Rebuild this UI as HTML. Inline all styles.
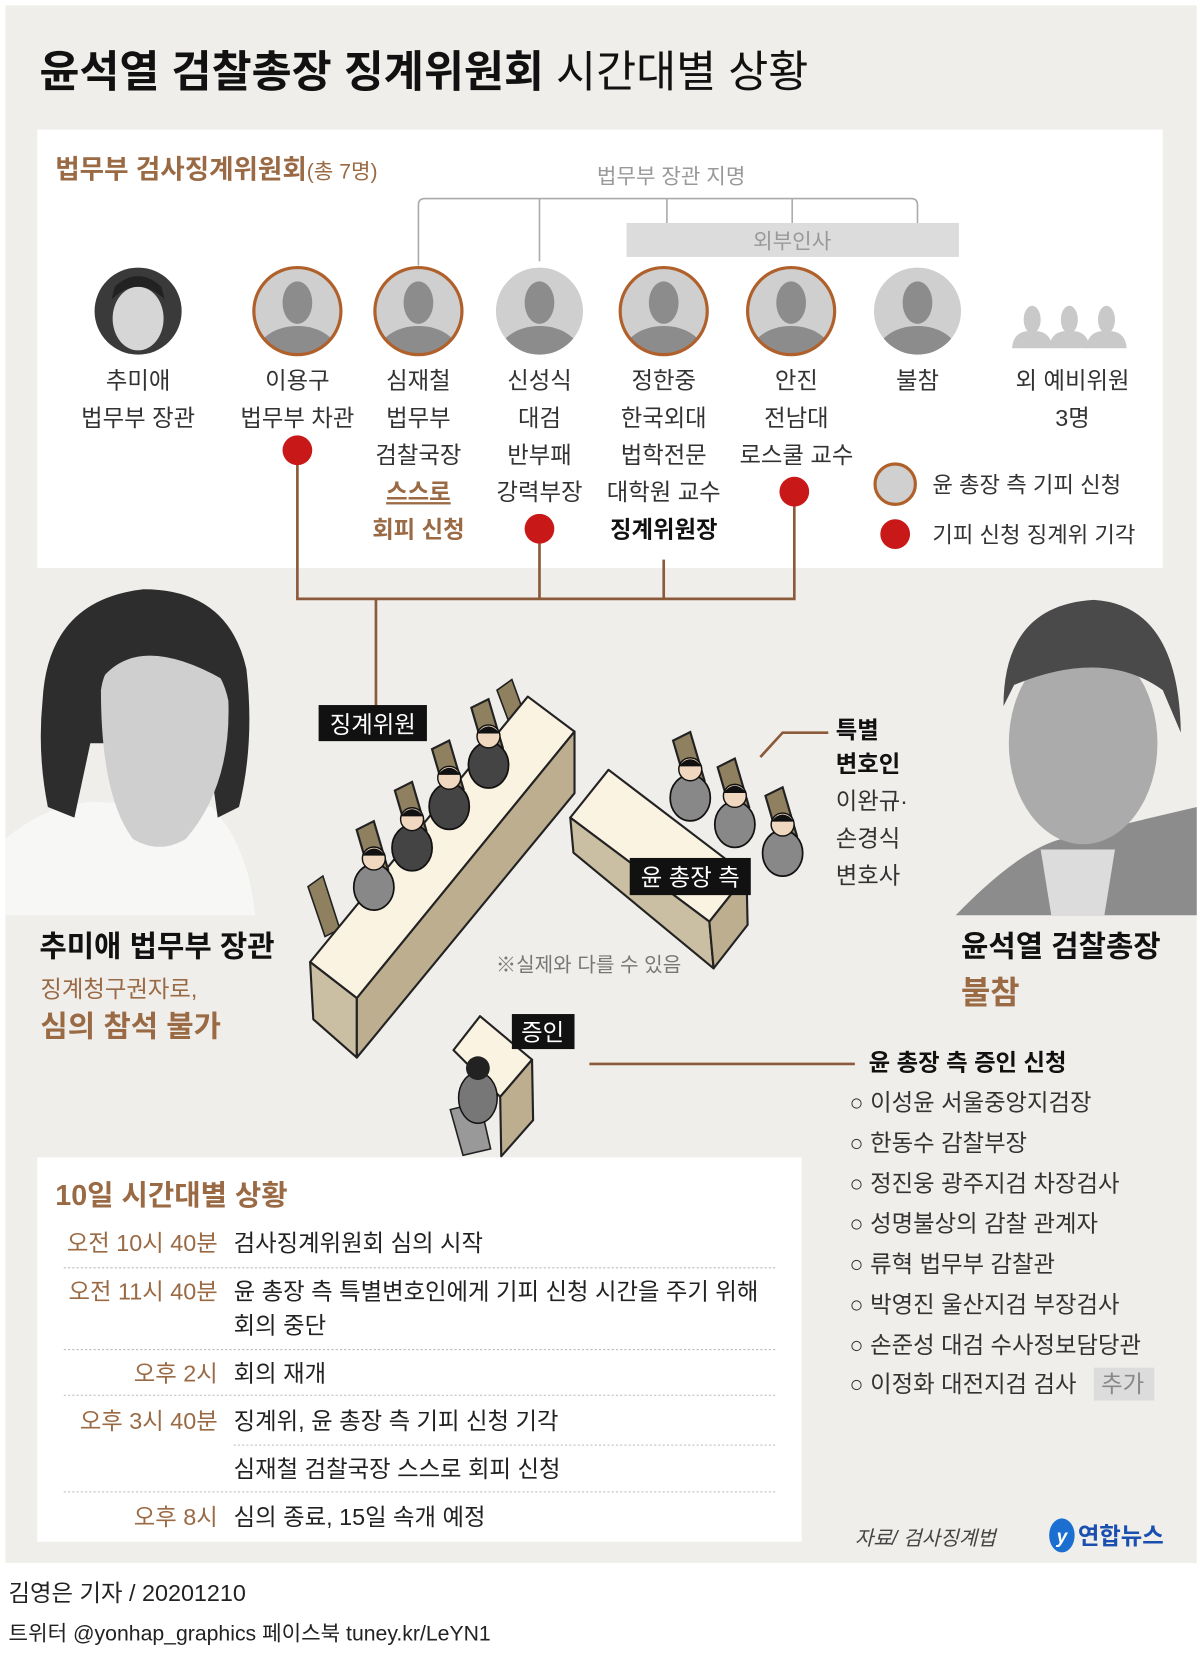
<!DOCTYPE html>
<html><head><meta charset="utf-8"><style>
html,body{margin:0;padding:0;background:#fff;}
svg{display:block;}
text{font-family:"Liberation Sans","Noto Sans CJK KR",sans-serif;}
</style></head><body>
<svg width="1200" height="1666" viewBox="0 0 1130 1569" xmlns="http://www.w3.org/2000/svg">
<defs>
<g id="av"><circle r="41" fill="#cfcfcf"/><clipPath id="cc"><circle r="41"/></clipPath>
<g clip-path="url(#cc)"><ellipse cx="0" cy="-8" rx="14" ry="20" fill="#8c8c8c"/><ellipse cx="0" cy="40" rx="38" ry="26" fill="#8c8c8c"/></g></g>
<g id="per"><ellipse cx="0" cy="-9" rx="8" ry="13" fill="#c9c9c9"/><path d="M-19,18 Q-18,4 -6,2 L6,2 Q18,4 19,18 Z" fill="#c9c9c9"/></g>
<g id="sitD" transform="scale(1.35)"><path d="M-12,-30 L0,-36 L10,-2 L-2,4 Z" fill="#8f8060" stroke="#222" stroke-width="1.5"/><ellipse cx="0" cy="10" rx="14" ry="16" fill="#444" stroke="#111" stroke-width="1.2"/><circle cx="0" cy="-10" r="8" fill="#f0d8c0" stroke="#111"/><path d="M-8,-12 Q0,-22 8,-12 Z" fill="#111"/></g>
<g id="sitL" transform="scale(1.35)"><path d="M-12,-30 L0,-36 L10,-2 L-2,4 Z" fill="#8f8060" stroke="#222" stroke-width="1.5"/><ellipse cx="0" cy="10" rx="14" ry="16" fill="#888" stroke="#111" stroke-width="1.2"/><circle cx="0" cy="-10" r="8" fill="#f0d8c0" stroke="#111"/><path d="M-8,-12 Q0,-22 8,-12 Z" fill="#111"/></g>
</defs>
<rect width="1130" height="1569" fill="#fff"/>
<rect x="5" y="5" width="1122" height="1467" fill="#efeeeb"/>
<text x="37" y="82" font-size="41" font-weight="700" fill="#111">윤석열 검찰총장 징계위원회 <tspan font-weight="400">시간대별 상황</tspan></text>

<rect x="35" y="122" width="1060" height="413" fill="#fff"/>
<text x="52" y="168" font-size="25" font-weight="700" fill="#9a6a45">법무부 검사징계위원회<tspan font-size="20" font-weight="400">(총 7명)</tspan></text>
<text x="632" y="173" font-size="20" fill="#999" text-anchor="middle">법무부 장관 지명</text>
<path d="M394,250 L394,193 Q394,187 400,187 L858,187 Q864,187 864,193 L864,212 M508,187 L508,246 M628,187 L628,212 M746,187 L746,212" stroke="#aaa" stroke-width="1.5" fill="none"/>
<rect x="590" y="210" width="313" height="32" fill="#dcdcdc"/>
<text x="746" y="234" font-size="20" fill="#999" text-anchor="middle">외부인사</text>

<circle cx="130" cy="293" r="41" fill="#3a3a3a"/>
<ellipse cx="130" cy="300" rx="24" ry="30" fill="#d6d6d6"/>
<path d="M105,282 Q130,258 155,282 L152,270 Q130,250 108,270 Z" fill="#222"/>
<use href="#av" x="280" y="293"/><circle cx="280" cy="293" r="41" fill="none" stroke="#b0602a" stroke-width="3"/>
<use href="#av" x="394" y="293"/><circle cx="394" cy="293" r="41" fill="none" stroke="#b0602a" stroke-width="3"/>
<use href="#av" x="508" y="293"/>
<use href="#av" x="625" y="293"/><circle cx="625" cy="293" r="41" fill="none" stroke="#b0602a" stroke-width="3"/>
<use href="#av" x="745" y="293"/><circle cx="745" cy="293" r="41" fill="none" stroke="#b0602a" stroke-width="3"/>
<use href="#av" x="864" y="293"/>
<use href="#per" x="972" y="310"/><use href="#per" x="1007" y="310"/><use href="#per" x="1042" y="310"/>

<g font-size="22" fill="#333" text-anchor="middle">
<text x="130" y="366">추미애</text><text x="130" y="401">법무부 장관</text>
<text x="280" y="366">이용구</text><text x="280" y="401">법무부 차관</text>
<text x="394" y="366">심재철</text><text x="394" y="401">법무부</text><text x="394" y="436">검찰국장</text>
<text x="394" y="471" fill="#9a6a45" font-weight="700" text-decoration="underline">스스로</text><text x="394" y="506" fill="#9a6a45" font-weight="700">회피 신청</text>
<text x="508" y="366">신성식</text><text x="508" y="401">대검</text><text x="508" y="436">반부패</text><text x="508" y="471">강력부장</text>
<text x="625" y="366">정한중</text><text x="625" y="401">한국외대</text><text x="625" y="436">법학전문</text><text x="625" y="471">대학원 교수</text>
<text x="625" y="506" font-weight="700" fill="#111">징계위원장</text>
<text x="750" y="366">안진</text><text x="750" y="401">전남대</text><text x="750" y="436">로스쿨 교수</text>
<text x="864" y="366">불참</text>
<text x="1010" y="366">외 예비위원</text><text x="1010" y="401">3명</text>
</g>
<ellipse cx="843" cy="456" rx="19" ry="19" fill="#d0d0d0" stroke="#b0602a" stroke-width="3"/>
<text x="878" y="464" font-size="21" fill="#333">윤 총장 측 기피 신청</text>
<circle cx="843" cy="503" r="14" fill="#c81818"/>
<text x="878" y="511" font-size="21" fill="#333">기피 신청 징계위 기각</text>

<g stroke="#8a5a3a" stroke-width="2.5" fill="none">
<path d="M280,424 V564 H748 V463 M508,498 V564 M625,527 V564 M354,564 V666"/>
</g>
<circle cx="280" cy="424" r="14" fill="#c81818"/>
<circle cx="508" cy="498" r="14" fill="#c81818"/>
<circle cx="748" cy="463" r="14" fill="#c81818"/>

<!-- Choo photo -->
<path d="M5,862 L5,790 Q40,760 85,755 L200,760 Q235,800 240,862 Z" fill="#f7f7f5"/>
<path d="M40,660 Q45,565 135,555 Q215,555 232,630 Q240,700 225,760 L205,770 L195,700 L85,700 L70,770 L45,760 Q35,710 40,660 Z" fill="#2d2d2d"/>
<path d="M95,650 Q100,610 150,605 Q205,610 215,660 Q218,740 175,790 Q150,805 125,790 Q95,750 95,650 Z" fill="#cfcfcf"/>
<path d="M95,640 Q130,595 210,640 L210,610 Q150,575 95,610 Z" fill="#2d2d2d"/>
<!-- Yoon photo -->
<path d="M900,862 Q960,800 1000,790 L1127,760 L1127,862 Z" fill="#8c8c8c"/>
<path d="M980,800 L1050,800 L1040,862 L990,862 Z" fill="#dcdcdc"/>
<ellipse cx="1020" cy="700" rx="70" ry="95" fill="#ababab"/>
<path d="M945,665 Q945,570 1030,565 Q1110,570 1112,690 L1095,650 Q1040,610 955,645 Z" fill="#4a4a4a"/>

<g font-weight="700">
<text x="37" y="901" font-size="28" fill="#111">추미애 법무부 장관</text>
<text x="38" y="939" font-size="22" font-weight="400" fill="#9a6a45">징계청구권자로,</text>
<text x="38" y="976" font-size="28" fill="#9a6a45">심의 참석 불가</text>
<text x="905" y="901" font-size="28" fill="#111">윤석열 검찰총장</text>
<text x="905" y="945" font-size="30" fill="#9a6a45">불참</text>
</g>

<!-- tables -->
<path d="M290,835 L304,825 L320,875 L306,882 Z" fill="#8f8060" stroke="#222" stroke-width="1.5"/>
<path d="M468,650 L482,640 L500,690 L486,698 Z" fill="#8f8060" stroke="#222" stroke-width="1.5"/>
<g stroke="#222" stroke-width="2" stroke-linejoin="round">
<path d="M292,906 L497,656 L541,689 L336,940 Z" fill="#faf3e2"/>
<path d="M292,906 L336,940 L336,996 L295,960 Z" fill="#cbbfa3"/>
<path d="M336,940 L541,689 L541,747 L336,996 Z" fill="#bcae8f"/>
<path d="M537,770 L573,725 L703,824 L668,868 Z" fill="#faf3e2"/>
<path d="M537,770 L668,868 L672,912 L540,803 Z" fill="#cbbfa3"/>
<path d="M668,868 L703,824 L704,871 L672,912 Z" fill="#bcae8f"/>
<path d="M427,989 L452,957 L501,998 L471,1033 Z" fill="#faf3e2"/>
<path d="M471,1033 L501,998 L502,1055 L472,1089 Z" fill="#bcae8f"/>
</g>
<use href="#sitL" x="352" y="822"/><use href="#sitD" x="388" y="785"/><use href="#sitD" x="423" y="746"/><use href="#sitD" x="460" y="707"/>
<use href="#sitL" x="650" y="738"/><use href="#sitL" x="692" y="763"/><use href="#sitL" x="737" y="790"/>
<path d="M424,1045 L452,1038 L462,1082 L436,1088 Z" fill="#999" stroke="#222" stroke-width="1.5"/>
<g transform="translate(450,1020) scale(1.4)"><ellipse cx="0" cy="10" rx="13" ry="17" fill="#777" stroke="#111" stroke-width="1"/><circle cx="0" cy="-10" r="8" fill="#222"/></g>

<rect x="300" y="664" width="102" height="34" fill="#111"/>
<text x="351" y="690" font-size="22" fill="#fff" text-anchor="middle">징계위원</text>
<rect x="593" y="808" width="114" height="35" fill="#111"/>
<text x="650" y="834" font-size="22" fill="#fff" text-anchor="middle">윤 총장 측</text>
<rect x="482" y="955" width="59" height="33" fill="#111"/>
<text x="511" y="980" font-size="22" fill="#fff" text-anchor="middle">증인</text>
<text x="467" y="915" font-size="19" fill="#777">※실제와 다를 수 있음</text>

<path d="M716,713 L737,690 L780,690" stroke="#8a5a3a" stroke-width="2.5" fill="none"/>
<g font-size="22" fill="#333">
<text x="787" y="695" font-weight="700" fill="#111">특별</text>
<text x="787" y="727" font-weight="700" fill="#111">변호인</text>
<text x="787" y="762">이완규·</text>
<text x="787" y="797">손경식</text>
<text x="787" y="832">변호사</text>
</g>

<path d="M555,1002 H805" stroke="#8a5a3a" stroke-width="2.5"/>
<text x="818" y="1008" font-size="22" font-weight="700" fill="#111">윤 총장 측 증인 신청</text>
<rect x="1030" y="1288" width="57" height="31" fill="#dcdcdc"/>
<g font-size="22" fill="#333">
<text x="800" y="1046">○ 이성윤 서울중앙지검장</text>
<text x="800" y="1084">○ 한동수 감찰부장</text>
<text x="800" y="1122">○ 정진웅 광주지검 차장검사</text>
<text x="800" y="1160">○ 성명불상의 감찰 관계자</text>
<text x="800" y="1198">○ 류혁 법무부 감찰관</text>
<text x="800" y="1236">○ 박영진 울산지검 부장검사</text>
<text x="800" y="1274">○ 손준성 대검 수사정보담당관</text>
<text x="800" y="1311">○ 이정화 대전지검 검사</text>
<text x="1037" y="1311" fill="#888">추가</text>
</g>

<rect x="35" y="1090" width="720" height="362" fill="#fff"/>
<text x="52" y="1135" font-size="27" font-weight="700" fill="#9a6a45">10일 시간대별 상황</text>
<g stroke="#bbb" stroke-width="1" stroke-dasharray="2,2">
<path d="M60,1194 H732 M60,1271 H732 M60,1314 H732 M220,1361 H732 M60,1405 H732"/>
</g>
<g font-size="22">
<g fill="#9a6a45" text-anchor="end">
<text x="205" y="1178">오전 10시 40분</text>
<text x="205" y="1224">오전 11시 40분</text>
<text x="205" y="1301">오후 2시</text>
<text x="205" y="1346">오후 3시 40분</text>
<text x="205" y="1436">오후 8시</text>
</g>
<g fill="#222">
<text x="220" y="1178">검사징계위원회 심의 시작</text>
<text x="220" y="1224">윤 총장 측 특별변호인에게 기피 신청 시간을 주기 위해</text>
<text x="220" y="1256">회의 중단</text>
<text x="220" y="1301">회의 재개</text>
<text x="220" y="1346">징계위, 윤 총장 측 기피 신청 기각</text>
<text x="220" y="1391">심재철 검찰국장 스스로 회피 신청</text>
<text x="220" y="1436">심의 종료, 15일 속개 예정</text>
</g></g>

<text x="805" y="1455" font-size="19" font-style="italic" fill="#444">자료/ 검사징계법</text>
<ellipse cx="1000" cy="1446" rx="12" ry="16" fill="#1a6fd0"/>
<text x="1000" y="1453" font-size="18" font-weight="700" fill="#fff" text-anchor="middle" font-style="italic">y</text>
<text x="1015" y="1454" font-size="22" font-weight="700" fill="#1a4fb0">연합뉴스</text>

<text x="8" y="1508" font-size="22" fill="#222">김영은 기자 / 20201210</text>
<text x="8" y="1545" font-size="20" fill="#222">트위터 @yonhap_graphics  페이스북 tuney.kr/LeYN1</text>
</svg>
</body></html>
